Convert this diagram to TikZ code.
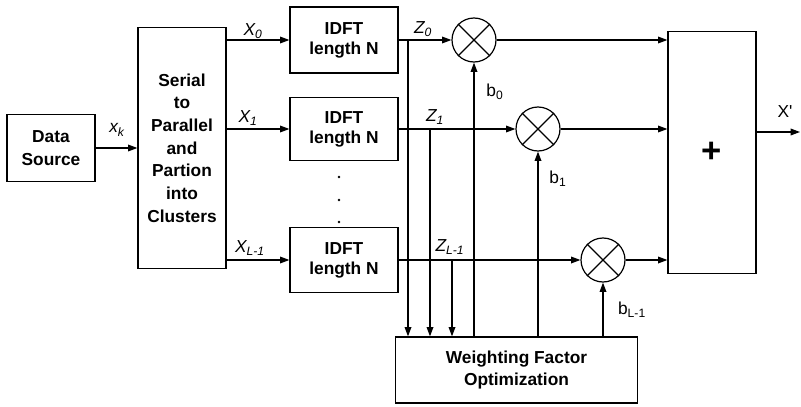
\documentclass[tikz,border=0pt]{standalone}
\usepackage{fontspec}
\setmainfont{Liberation Sans}
\usetikzlibrary{arrows.meta}

\begin{document}
\begin{tikzpicture}[x=0.75pt, y=-0.75pt, line width=0.9pt,
    >={Triangle[length=7pt,width=5pt]},
    block/.style={draw, align=center, inner sep=0pt,
      font=\fontsize{13}{17}\selectfont\bfseries},
    mult/.style={draw, circle, minimum size=33pt, inner sep=0pt},
    lbl/.style={inner sep=0pt, font=\fontsize{13}{15}\selectfont}]
    \useasboundingbox (0,0) rectangle (801,407);
    % blocks
    \node[block, minimum width=66pt, minimum height=50pt] (src) at (51,148) {Data\\Source};
    \node[block, minimum width=66pt, minimum height=181pt] (sp) at (182,148)
      {Serial\\to\\Parallel\\and\\Partion\\into\\Clusters};
    \node[block, minimum width=81pt, minimum height=49.5pt, font=\fontsize{13}{15}\selectfont\bfseries] (idft0) at (344,40) {IDFT\\length N};
    \node[block, minimum width=81pt, minimum height=47pt, font=\fontsize{13}{15}\selectfont\bfseries] (idft1) at (344,129) {IDFT\\length N};
    \node[block, minimum width=81pt, minimum height=49pt, font=\fontsize{13}{15}\selectfont\bfseries] (idftL) at (344,260) {IDFT\\length N};
    \node[mult] (m0) at (474,40) {};
    \node[mult] (m1) at (538,129) {};
    \node[mult] (mL) at (603,260) {};
    \node[block, minimum width=66pt, minimum height=181pt, font=\fontsize{26}{26}\selectfont\bfseries] (sum) at (712,152.5) {+};
    \node[block, minimum width=181pt, minimum height=49.5pt] (wfo) at (516.5,370) {Weighting Factor\\Optimization};
    \foreach \m in {m0,m1,mL}
      \draw (\m.45) -- (\m.225) (\m.135) -- (\m.315);
    % dots between the IDFT blocks
    \foreach \y in {177,200,222}
      \fill (339,\y) circle (1.1pt);
    % signal path
    \draw[->] (src) -- (sp);
    \draw[->] (sp.east |- idft0) -- (idft0);
    \draw[->] (sp.east |- idft1) -- (idft1);
    \draw[->] (sp.east |- idftL) -- (idftL);
    \draw[->] (idft0) -- (m0);
    \draw[->] (idft1) -- (m1);
    \draw[->] (idftL) -- (mL);
    \draw[->] (m0) -- (m0 -| sum.west);
    \draw[->] (m1) -- (m1 -| sum.west);
    \draw[->] (mL) -- (mL -| sum.west);
    \coordinate (xout) at (800,132);
    \draw[->] (sum.east |- xout) -- (xout);
    % taps into the optimization block
    \coordinate (t0) at (408,40);
    \coordinate (t1) at (430,129);
    \coordinate (tL) at (452,260);
    \foreach \t in {t0,t1,tL}
      \draw[->] (\t) -- (\t |- wfo.north);
    \draw[->] (m0 |- wfo.north) -- (m0);
    \draw[->] (m1 |- wfo.north) -- (m1);
    \draw[->] (mL |- wfo.north) -- (mL);
    % labels
    \node[lbl] (lxk) at (117,130) {\textit{x\textsubscript{k}}};
    \node[lbl] (lx0) at (253,31) {\textit{X\textsubscript{0}}};
    \node[lbl] (lx1) at (248,118) {\textit{X\textsubscript{1}}};
    \node[lbl] (lxL) at (250,248) {\textit{X\textsubscript{L-1}}};
    \node[lbl] (lz0) at (423,29) {\textit{Z\textsubscript{0}}};
    \node[lbl] (lz1) at (435,117) {\textit{Z\textsubscript{1}}};
    \node[lbl] (lzL) at (450,247) {\textit{Z\textsubscript{L-1}}};
    \node[lbl] (lb0) at (495,92) {b\textsubscript{0}};
    \node[lbl] (lb1) at (558,179) {b\textsubscript{1}};
    \node[lbl] (lbL) at (632,310) {b\textsubscript{L-1}};
    \node[lbl] (lxo) at (785,112) {X\textquotesingle};
\end{tikzpicture}
\end{document}
